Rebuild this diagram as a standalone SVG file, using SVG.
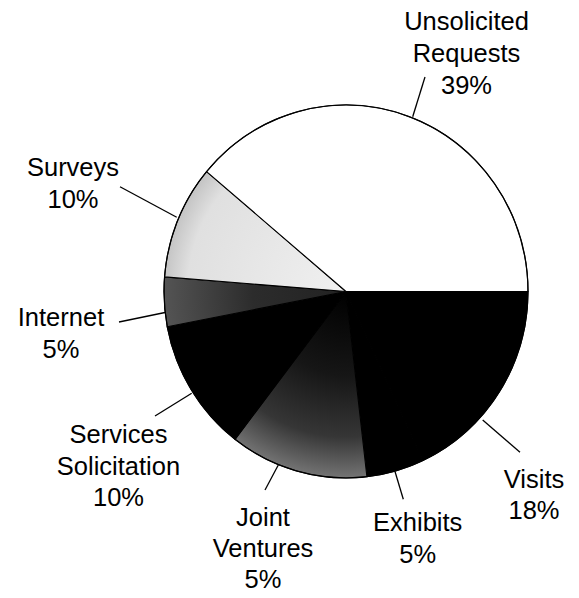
<svg xmlns="http://www.w3.org/2000/svg" width="579" height="598" viewBox="0 0 579 598">
<style>
  .lbl { font-family: "Liberation Sans", Arial, Helvetica, sans-serif; font-size: 25.5px; fill: #000; text-anchor: middle; }
  .slice { stroke: #000; stroke-width: 1.1; stroke-linejoin: round; }
  .lead { stroke: #000; stroke-width: 1.3; fill: none; }
</style>
<defs>
  <radialGradient id="gSurveys" gradientUnits="userSpaceOnUse" cx="346" cy="291.5" r="186.5">
    <stop offset="0" stop-color="#f0f0f0"/>
    <stop offset="0.85" stop-color="#e0e0e0"/>
    <stop offset="1" stop-color="#c0c0c0"/>
  </radialGradient>
  <radialGradient id="gInternet" gradientUnits="userSpaceOnUse" cx="346" cy="291.5" r="186.5">
    <stop offset="0" stop-color="#222"/>
    <stop offset="0.5" stop-color="#2c2c2c"/>
    <stop offset="1" stop-color="#565656"/>
  </radialGradient>
  <radialGradient id="gJV" gradientUnits="userSpaceOnUse" cx="346" cy="291.5" r="186.5">
    <stop offset="0" stop-color="#000"/>
    <stop offset="0.45" stop-color="#161616"/>
    <stop offset="0.78" stop-color="#363636"/>
    <stop offset="1" stop-color="#747474"/>
  </radialGradient>
</defs>

<g id="pie">
  <g id="slice-visits"><path class="slice" fill="#000" d="M346 291.5 L528 291.5 A182 186.5 0 0 1 422.9 460.5 Z"/></g>
  <g id="slice-exhibits"><path class="slice" fill="#000" d="M346 291.5 L422.9 460.5 A182 186.5 0 0 1 366.9 476.8 Z"/></g>
  <g id="slice-joint-ventures"><path class="slice" fill="url(#gJV)" stroke="none" d="M346 291.5 L366.9 476.8 A182 186.5 0 0 1 235 439.3 Z"/></g>
  <g id="slice-services"><path class="slice" fill="#000" d="M346 291.5 L235 439.3 A182 186.5 0 0 1 167.3 326.8 Z"/></g>
  <g id="slice-internet"><path class="slice" fill="url(#gInternet)" stroke="none" d="M346 291.5 L167.3 326.8 A182 186.5 0 0 1 164.6 276.9 Z"/></g>
  <g id="slice-surveys"><path class="slice" fill="url(#gSurveys)" d="M346 291.5 L164.6 276.9 A182 186.5 0 0 1 206.6 171.6 Z"/></g>
  <g id="slice-unsolicited"><path class="slice" fill="#fff" d="M346 291.5 L206.6 171.6 A182 186.5 0 0 1 528 291.5 Z"/></g>
  <ellipse cx="346" cy="291.5" rx="182" ry="186.5" fill="none" stroke="#000" stroke-width="1.2"/>
</g>

<g id="connectors">
  <line class="lead" x1="425" y1="77" x2="412.7" y2="116.7"/>
  <line class="lead" x1="120" y1="186.7" x2="176.7" y2="217.3"/>
  <line class="lead" x1="119" y1="322" x2="165" y2="312.5"/>
  <line class="lead" x1="155" y1="416" x2="191.7" y2="393.3"/>
  <line class="lead" x1="265" y1="490" x2="278.3" y2="465"/>
  <line class="lead" x1="395" y1="471.5" x2="403.3" y2="499.3"/>
  <line class="lead" x1="482.7" y1="420" x2="520" y2="452.3"/>
</g>

<g id="label-unsolicited">
  <text class="lbl" x="466.5" y="29.5">Unsolicited</text>
  <text class="lbl" x="466.5" y="61.5">Requests</text>
  <text class="lbl" x="466.5" y="93.5">39%</text>
</g>
<g id="label-surveys">
  <text class="lbl" x="73" y="176">Surveys</text>
  <text class="lbl" x="73" y="208">10%</text>
</g>
<g id="label-internet">
  <text class="lbl" x="61" y="326">Internet</text>
  <text class="lbl" x="61" y="357.5">5%</text>
</g>
<g id="label-services">
  <text class="lbl" x="118.5" y="442.5">Services</text>
  <text class="lbl" x="118.5" y="474.5">Solicitation</text>
  <text class="lbl" x="118.5" y="506">10%</text>
</g>
<g id="label-joint-ventures">
  <text class="lbl" x="263" y="526">Joint</text>
  <text class="lbl" x="263" y="556.5">Ventures</text>
  <text class="lbl" x="263" y="587.5">5%</text>
</g>
<g id="label-exhibits">
  <text class="lbl" x="417.7" y="530.5">Exhibits</text>
  <text class="lbl" x="417.7" y="562.5">5%</text>
</g>
<g id="label-visits">
  <text class="lbl" x="534" y="487.5">Visits</text>
  <text class="lbl" x="534" y="518.5">18%</text>
</g>
</svg>
